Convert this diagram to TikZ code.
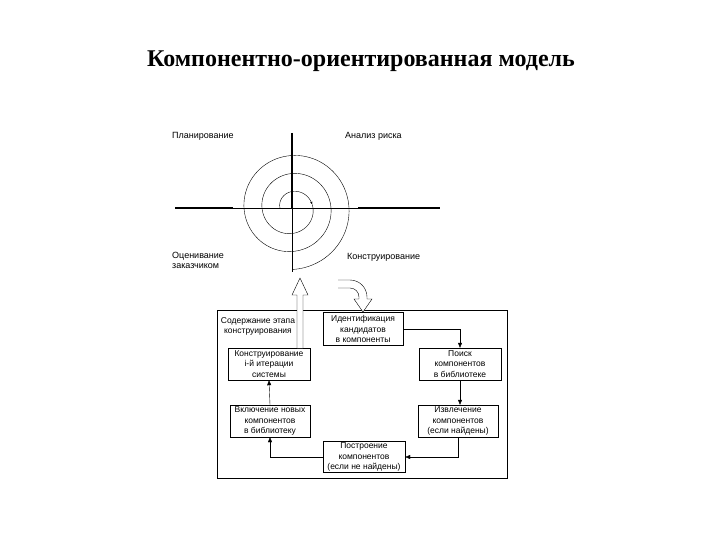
\documentclass[tikz,border=0pt]{standalone}
\usepackage{fontspec}
\setmainfont{Liberation Serif}
\setsansfont{Liberation Sans}
\usetikzlibrary{arrows.meta, positioning, calc}

\begin{document}
\begin{tikzpicture}[x=1pt, y=-1pt,
  stagebox/.style={draw, thin, minimum width=82pt, minimum height=32pt, align=center,
    inner sep=1pt, font=\sffamily\fontsize{8.5}{10.3}\selectfont},
  flow/.style={-{Triangle[length=5pt, width=4pt]}, thin},
  quarter/.style={font=\sffamily\fontsize{9}{10.5}\selectfont, align=left, anchor=north west, inner sep=0pt},
  hollow/.style={draw, thin, fill=white}]
  \useasboundingbox (0,0) rectangle (720,540);

  \node[font=\bfseries\fontsize{24}{28}\selectfont] (title) at (361,61) {Компонентно-ориентированная модель};

  % spiral model
  \coordinate (c) at (292,208);
  \draw[line width=1.5pt] (175,208) -- (233,208);
  \draw[thin] (233,208) -- (358,208);
  \draw[line width=1.5pt] (358,208) -- (440,208);
  \draw[line width=1.3pt] (292,133) -- (c);
  \draw[thin] (c) -- (292,272);
  \draw[thin, domain=180:350, samples=40, -{Stealth[length=3pt]}]
    plot ({292+(12+0.05*(\x-180))*cos(\x)}, {208+(12+0.05*(\x-180))*sin(\x)});
  \draw[thin, domain=350:1170, samples=200]
    plot ({292+(12+0.05*(\x-180))*cos(\x)}, {208+(12+0.05*(\x-180))*sin(\x)});

  \node[quarter] (plan) at (172,132) {Планирование};
  \node[quarter] (risk) at (345,132) {Анализ риска};
  \node[quarter] (eval) at (172,252) {Оценивание\\заказчиком};
  \node[quarter] (constr) at (347,253) {Конструирование};

  % stage contents
  \node[draw, thin, minimum width=290pt, minimum height=168pt, inner sep=0pt] (frame) at (362,394) {};
  \node[align=center, anchor=north, inner sep=0pt, font=\sffamily\fontsize{8.5}{10.5}\selectfont]
    (stage) at (258,317) {Содержание этапа\\конструирования};

  \node[stagebox, minimum width=80pt, minimum height=33pt] (ident) at (363,329) {Идентификация\\кандидатов\\в компоненты};
  \node[stagebox] (search) at (460,364) {Поиск\\компонентов\\в библиотеке};
  \node[stagebox] (build) at (269,364) {Конструирование\\i-й итерации\\системы};
  \node[stagebox, minimum width=80pt] (include) at (270,421) {Включение новых\\компонентов\\в библиотеку};
  \node[stagebox, minimum width=80pt] (extract) at (458,421) {Извлечение\\компонентов\\(если найдены)};
  \node[stagebox, minimum height=31pt] (create) at (364,457) {Построение\\компонентов\\(если не найдены)};

  \draw[flow] (ident.east) -| (search.north);
  \draw[flow] (search.south) -- (search.south |- extract.north);
  \draw[flow] (extract.south) |- (create.east);
  \draw[flow] (create.west) -| (include.south);
  \draw[flow] (include.north) -- (build.south);

  % hollow arrows
  \coordinate (up) at (300,278);
  \draw[hollow] (297,348) -- (297,295) -- (292,295) -- (up) -- (308,295) -- (303,295) -- (303,348);
  \draw[hollow] (338,280) -- (350,280) arc[start angle=270, end angle=360, radius=17]
    -- (367,299) -- (372,299) -- (363,312) -- (354,299) -- (359,299) -- (359,297)
    arc[start angle=360, end angle=270, radius=9] -- (338,288);
\end{tikzpicture}
\end{document}
